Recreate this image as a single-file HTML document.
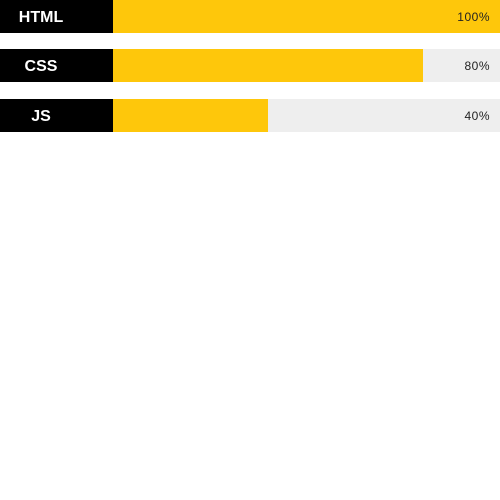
<!DOCTYPE html>
<html><head><meta charset="utf-8"><style>
body{margin:0;width:500px;height:500px;background:#fff;font-family:"Liberation Sans",sans-serif;position:relative;overflow:hidden}
.row{position:absolute;left:0;width:500px;height:33px}
.lab{position:absolute;left:0;top:0;width:113px;height:33px;background:#000;color:#fff;font-weight:bold;font-size:16px;line-height:35px}
.lab span{position:absolute;left:41px;transform:translateX(-50%)}
.track{position:absolute;left:113px;top:0;width:387px;height:33px;background:#eeeeee}
.fill{position:absolute;left:0;top:0;height:33px;background:#fec70b}
.pct{position:absolute;right:10px;top:0;line-height:35px;font-size:12px;color:#222;letter-spacing:0.5px}
</style></head><body>
<div id="chart"></div>
<script>
const categories=["HTML","CSS","JS"];
const values=[100,80,40];
const tops=[0,49,99];
const chart=document.getElementById('chart');
const trackW=387;
function xScale(v){return v/100*trackW;}
categories.forEach((c,i)=>{
  const row=document.createElement('div');row.className='row';row.style.top=tops[i]+'px';
  
  
  const lab=document.createElement('div');lab.className='lab';
  
  
  const s=document.createElement('span');s.textContent=c;lab.appendChild(s);
  const tr=document.createElement('div');tr.className='track';
  
  
  const f=document.createElement('div');f.className='fill';f.style.width=xScale(values[i])+'px';
  
  
  const p=document.createElement('div');p.className='pct';p.textContent=values[i]+'%';
  
  
  tr.appendChild(f);tr.appendChild(p);
  row.appendChild(lab);row.appendChild(tr);chart.appendChild(row);
});
</script>
</body></html>
